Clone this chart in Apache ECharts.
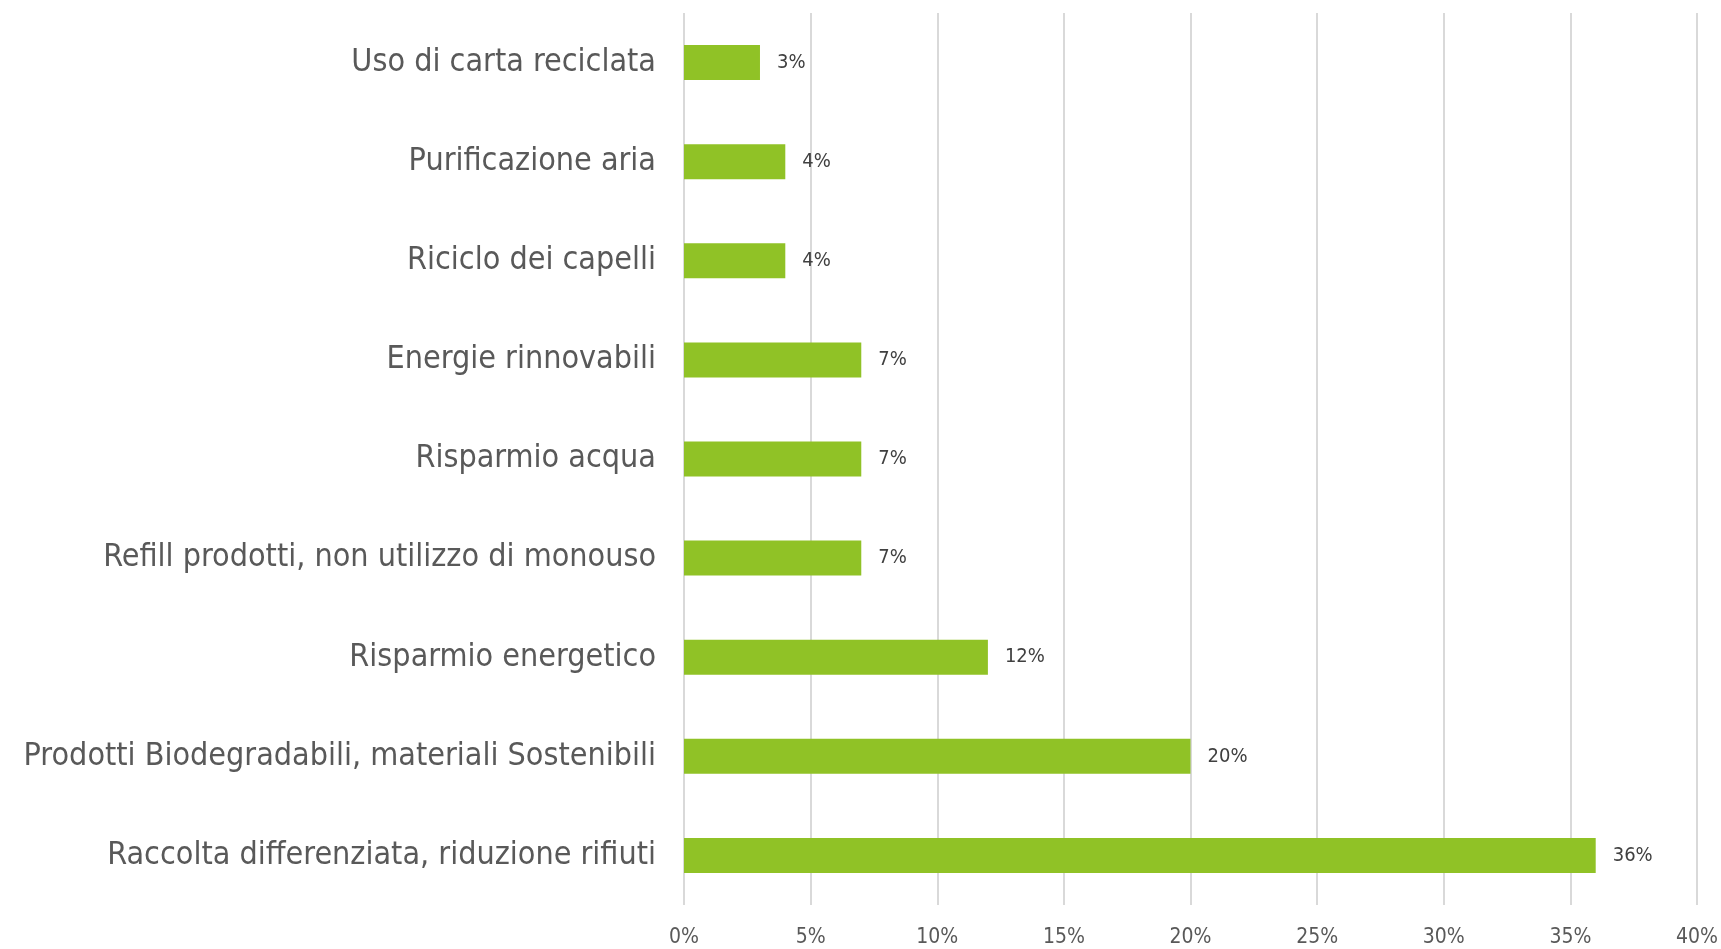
<!DOCTYPE html>
<html>
<head>
<meta charset="utf-8">
<script src="https://cdn.jsdelivr.net/npm/echarts@6/dist/echarts.min.js"></script>
<style>
  html, body { margin: 0; padding: 0; background: #fff; }
  #container { width: 1721px; height: 949px; }
</style>
</head>
<body>
<div id="container"></div>
<script>
// categorie dal basso verso l'alto
var categories = [
    'Raccolta differenziata, riduzione rifiuti',
    'Prodotti Biodegradabili, materiali Sostenibili',
    'Risparmio energetico',
    'Refill prodotti, non utilizzo di monouso',
    'Risparmio acqua',
    'Energie rinnovabili',
    'Riciclo dei capelli',
    'Purificazione aria',
    'Uso di carta reciclata'
];
var values = [36, 20, 12, 7, 7, 7, 4, 4, 3];
var ticks = [0, 5, 10, 15, 20, 25, 30, 35, 40];

var chart = echarts.init(document.getElementById('container'));
var fontName = '"DejaVu Sans Condensed", "DejaVu Sans", sans-serif';

var option = {
    animation: false,
    grid: {
        left: 684,
        right: 22,
        top: 13,
        bottom: 44
    },
    xAxis: {
        type: 'value',
        min: ticks[0],
        max: ticks[ticks.length - 1],
        interval: 5,
        axisLine: { show: false },
        axisTick: { show: false },
        splitLine: {
            show: true,
            lineStyle: { color: '#d9d9d9', width: 2 }
        },
        axisLabel: {
            formatter: '{value}%',
            color: '#595959',
            fontFamily: fontName,
            fontSize: 21,
            margin: 22
        }
    },
    yAxis: {
        type: 'category',
        data: categories,
        axisLine: { show: false },
        axisTick: { show: false },
        axisLabel: {
            color: '#595959',
            fontFamily: fontName,
            fontSize: 32,
            margin: 28
        }
    },
    series: [{
        name: 'risposte',
        type: 'bar',
        data: values,
        barWidth: 35,
        itemStyle: { color: '#90c226' },
        label: {
            show: true,
            position: 'right',
            distance: 17,
            formatter: '{c}%',
            color: '#404040',
            fontFamily: fontName,
            fontSize: 20
        }
    }]
};
chart.setOption(option);
</script>
</body>
</html>
